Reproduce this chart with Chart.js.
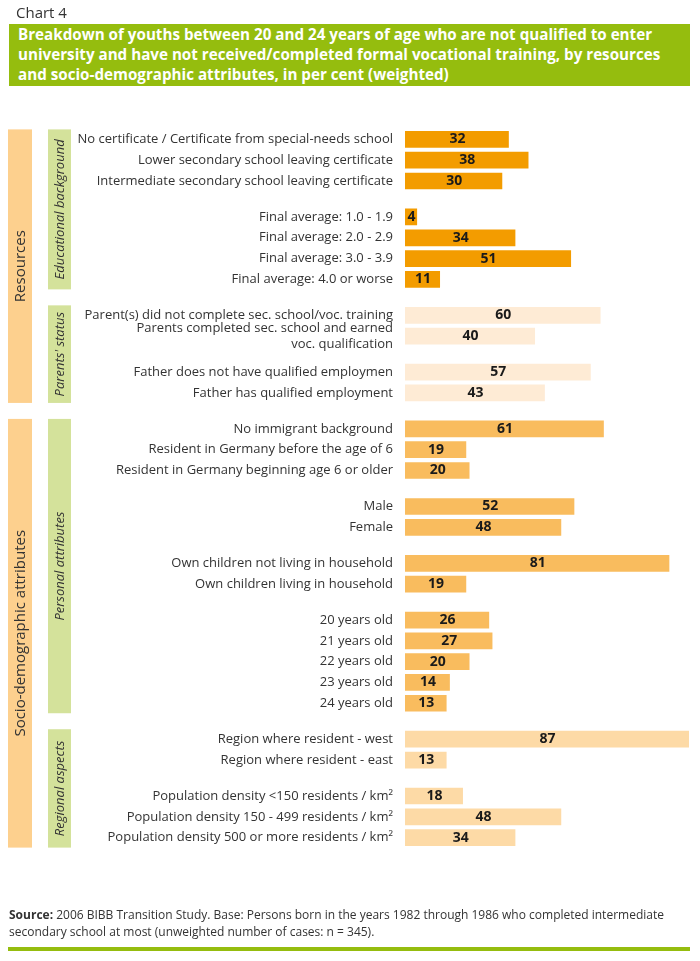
<!DOCTYPE html>
<html>
<head>
<meta charset="utf-8">
<script src="https://cdn.jsdelivr.net/npm/chart.js@4"></script>
<style>
  body { margin: 0; background: #fff; width: 700px; height: 961px; position: relative; overflow: hidden; font-family: "Open Sans", sans-serif; }
  #chartNo { position: absolute; left: 16px; top: 2px; font-size: 15px; color: #333; }
  #title { position: absolute; left: 9px; top: 24px; width: 681px; height: 62px; background: #95bd0e; color: #fff;
           font-weight: bold; font-size: 15.2px; line-height: 20px; box-sizing: border-box; padding: 0 0 0 9px; }
  #source { position: absolute; left: 9px; top: 906px; font-size: 12px; line-height: 17px; color: #333; }
  #rule { position: absolute; left: 8px; top: 947px; width: 682px; height: 4px; background: #95bd0e; }
  #wrap { position: absolute; left: 0; top: 0; }
</style>
</head>
<body>
<div id="wrap"><canvas id="chart4" width="700" height="961"></canvas></div>
<div id="chartNo">Chart 4</div>
<div id="title">Breakdown of youths between 20 and 24 years of age who are not qualified to enter<br>university and have not received/completed formal vocational training, by resources<br>and socio-demographic attributes, in per cent (weighted)</div>
<div id="source"><b>Source:</b> 2006 BIBB Transition Study. Base: Persons born in the years 1982 through 1986 who completed intermediate<br>secondary school at most (unweighted number of cases: n = 345).</div>
<div id="rule"></div>
<script>
// categories (top to bottom)
const labels = [
  'No certificate / Certificate from special-needs school',
  'Lower secondary school leaving certificate',
  'Intermediate secondary school leaving certificate',
  'Final average: 1.0 - 1.9',
  'Final average: 2.0 - 2.9',
  'Final average: 3.0 - 3.9',
  'Final average: 4.0 or worse',
  'Parent(s) did not complete sec. school/voc. training',
  ['Parents completed sec. school and earned', 'voc. qualification'],
  'Father does not have qualified employmen',
  'Father has qualified employment',
  'No immigrant background',
  'Resident in Germany before the age of 6',
  'Resident in Germany beginning age 6 or older',
  'Male',
  'Female',
  'Own children not living in household',
  'Own children living in household',
  '20 years old',
  '21 years old',
  '22 years old',
  '23 years old',
  '24 years old',
  'Region where resident - west',
  'Region where resident - east',
  'Population density <150 residents / km²',
  'Population density 150 - 499 residents / km²',
  'Population density 500 or more residents / km²'
];
const values = [32, 38, 30, 4, 34, 51, 11, 60, 40, 57, 43, 61, 19, 20, 52, 48, 81, 19, 26, 27, 20, 14, 13, 87, 13, 18, 48, 34];

// rows per group, and which block each group belongs to
const groupSizes = [3, 4, 2, 2, 3, 2, 2, 5, 2, 3];
const groupBlock = [0, 0, 1, 1, 2, 2, 2, 2, 3, 3];
const blockNames = ['Educational background', "Parents' status", 'Personal attributes', 'Regional aspects'];
const sectionNames = ['Resources', 'Socio-demographic attributes'];
const sectionBlocks = [[0, 1], [2, 3]];

const blockColors = ['#f39c00', '#feebd5', '#f9bc5e', '#fddaa6'];
const GAP = 0.73;

// row positions on the y axis (groups separated by an extra gap)
let rowPos = [], rowGroup = [];
let r = 0;
groupSizes.forEach((n, g) => {
  for (let k = 0; k < n; k++) {
    rowPos.push(r + g * GAP);
    rowGroup.push(g);
    r++;
  }
});
const lastPos = rowPos[rowPos.length - 1];

const bandPlugin = {
  id: 'bands',
  beforeDatasetsDraw(chart) {
    const ctx = chart.ctx;
    const y = chart.scales.y;
    const half = 10;
    function extent(blocks) {
      let idx = [];
      rowGroup.forEach((g, i) => { if (blocks.includes(groupBlock[g])) idx.push(i); });
      return [y.getPixelForValue(rowPos[idx[0]]) - half, y.getPixelForValue(rowPos[idx[idx.length - 1]]) + half];
    }
    function band(x, w, top, bottom, color, text, font) {
      ctx.fillStyle = color;
      ctx.fillRect(x, top, w, bottom - top);
      ctx.save();
      ctx.translate(x + w / 2, (top + bottom) / 2);
      ctx.rotate(-Math.PI / 2);
      ctx.fillStyle = '#333';
      ctx.font = font;
      ctx.textAlign = 'center';
      ctx.textBaseline = 'middle';
      ctx.fillText(text, 0, 1);
      ctx.restore();
    }
    ctx.save();
    sectionNames.forEach((name, s) => {
      const [t, b] = extent(sectionBlocks[s]);
      band(8, 24, t, b, '#fdd08e', name, '15px "Open Sans"');
    });
    blockNames.forEach((name, k) => {
      const [t, b] = extent([k]);
      band(48, 23, t, b, '#d4e29b', name, 'italic 13px "Open Sans"');
    });
    ctx.restore();
  },
  afterDatasetsDraw(chart) {
    const ctx = chart.ctx;
    const meta = chart.getDatasetMeta(0);
    ctx.save();
    ctx.font = 'bold 14px "Open Sans"';
    ctx.fillStyle = '#1a1a1a';
    ctx.textAlign = 'center';
    ctx.textBaseline = 'middle';
    meta.data.forEach((bar, i) => {
      ctx.fillText(values[i], (bar.x + bar.base) / 2, bar.y);
    });
    ctx.restore();
  }
};

const chart4 = new Chart(document.getElementById('chart4'), {
  type: 'bar',
  data: {
    datasets: [{
      data: values.map((v, i) => ({ x: v, y: rowPos[i] })),
      backgroundColor: rowGroup.map(g => blockColors[groupBlock[g]]),
      borderColor: 'rgba(255,255,255,0.5)',
      borderWidth: 1,
      barPercentage: 0.9,
      categoryPercentage: 1
    }]
  },
  options: {
    indexAxis: 'y',
    responsive: false,
    animation: false,
    layout: { padding: { top: 129, bottom: 113, left: 0, right: 10 } },
    plugins: { legend: { display: false }, tooltip: { enabled: false } },
    scales: {
      x: { display: false, min: 0, max: 87, offset: false },
      y: {
        type: 'linear',
        reverse: true,
        offset: false,
        min: -0.5,
        max: lastPos + 0.5,
        afterFit(scale) { scale.width = 405; },
        afterBuildTicks(scale) { scale.ticks = rowPos.map(v => ({ value: v })); },
        grid: { display: false, drawTicks: false, offset: false },
        border: { display: false },
        ticks: {
          autoSkip: false,
          padding: 12,
          color: '#333',
          font: { family: '"Open Sans"', size: 13 },
          callback: (value, index) => labels[index]
        }
      }
    }
  },
  plugins: [bandPlugin]
});
</script>
</body>
</html>
